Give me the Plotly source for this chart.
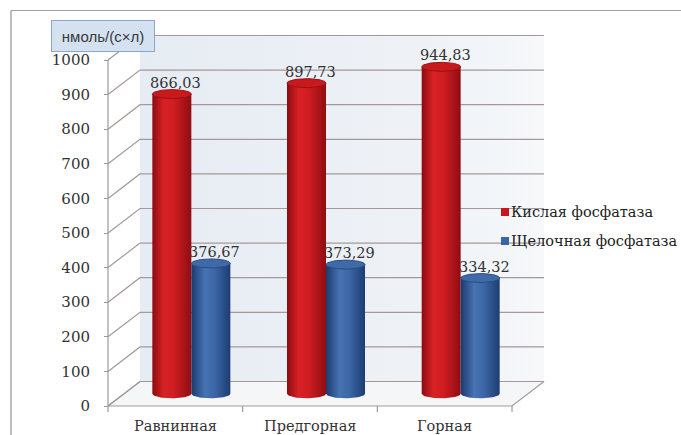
import numpy as np
import plotly.graph_objects as go

# ---- data -------------------------------------------------------------
categories = ["Равнинная", "Предгорная", "Горная"]
series_names = ["Кислая фосфатаза", "Щелочная фосфатаза"]
acid_values = [866.03, 897.73, 944.83]
alkaline_values = [376.67, 373.29, 334.32]
y_ticks = list(range(0, 1001, 100))

# ---- figure geometry (category units on x, value units on y) ----------
W, H = 681, 435
PX_PER_CAT = 134.67          # width of one category slot
PX_PER_UNIT = 0.346          # pixels per value unit
AXIS_PX = 108                # left edge of the floor
ZERO_PX = 406                # baseline pixel row
x_lo = -0.5 - AXIS_PX / PX_PER_CAT
x_hi = x_lo + W / PX_PER_CAT
y_lo = -(H - ZERO_PX) / PX_PER_UNIT
y_hi = ZERO_PX / PX_PER_UNIT

DX = 32 / PX_PER_CAT          # depth offset on x
DY = 24.5 / PX_PER_UNIT       # depth offset on y
R = 19.5 / PX_PER_CAT         # cylinder radius (x units)
RY = 4.5 / PX_PER_UNIT        # ellipse half-height (y units)

n = len(categories)
x_left, x_right = -0.5, n - 0.5

GRID = "#a69898"
SERIF = "DejaVu Serif"
TEXT = "#333333"

fig = go.Figure()

# back wall
fig.add_trace(go.Scatter(
    x=[x_left + DX, x_right + DX, x_right + DX, x_left + DX, x_left + DX],
    y=[DY, DY, 1000 + DY, 1000 + DY, DY],
    mode="lines", line=dict(width=0), fill="toself",
    fillgradient=dict(type="horizontal",
                      colorscale=[[0, "#e6ecf3"], [0.7, "#eef2f7"], [1, "#f6f8fa"]]),
    hoverinfo="skip", showlegend=False))

# floor
fig.add_trace(go.Scatter(
    x=[x_left, x_right, x_right + DX, x_left + DX, x_left],
    y=[0, 0, DY, DY, 0],
    mode="lines", line=dict(color=GRID, width=1.2), fill="toself",
    fillcolor="#f5f6f8", hoverinfo="skip", showlegend=False))

# gridlines on the back wall plus the diagonals from the value axis
gx, gy = [], []
for t in y_ticks:
    gx += [x_left, x_left + DX, x_right + DX, None]
    gy += [t, t + DY, t + DY, None]
fig.add_trace(go.Scatter(x=gx, y=gy, mode="lines",
                         line=dict(color=GRID, width=1.2),
                         hoverinfo="skip", showlegend=False))

# value axis line and category tick marks
tick_down = 6 / PX_PER_UNIT
cx_, cy_ = [x_left, x_left, None], [0, 1000, None]
for k in range(n + 1):
    cx_ += [x_left + k, x_left + k, None]
    cy_ += [0, -tick_down, None]
fig.add_trace(go.Scatter(x=cx_, y=cy_, mode="lines",
                         line=dict(color="#9a9a9a", width=1.2),
                         hoverinfo="skip", showlegend=False))

# ---- cylinders --------------------------------------------------------
styles = [
    dict(body=[[0, "#8c0b0f"], [0.3, "#d82226"], [0.55, "#cf1d21"], [1, "#8f0d11"]],
         top="#c9191d", rim="#9a1014", key="#c8161b"),
    dict(body=[[0, "#1b3a6e"], [0.35, "#4673b3"], [0.6, "#3c66a6"], [1, "#1d3c72"]],
         top="#3f6aa9", rim="#2a4c82", key="#3a65a8"),
]
theta = np.linspace(0, np.pi, 40)
theta_full = np.linspace(0, 2 * np.pi, 80)

for s, values in enumerate([acid_values, alkaline_values]):
    st = styles[s]
    for i, v in enumerate(values):
        cx = i + DX / 2 + (2 * s - 1) * R
        base = DY / 2
        top = v + DY / 2
        # body: straight top edge, sides, lower half of the base ellipse
        bx = [cx - R, cx + R, cx + R] + list(cx + R * np.cos(theta)) + [cx - R]
        by = [top, top, base] + list(base - RY * np.sin(theta)) + [top]
        fig.add_trace(go.Scatter(
            x=bx, y=by, mode="lines", line=dict(width=0), fill="toself",
            fillgradient=dict(type="horizontal", colorscale=st["body"]),
            hoverinfo="skip", showlegend=False))
        # top cap
        fig.add_trace(go.Scatter(
            x=cx + R * np.cos(theta_full), y=top + RY * np.sin(theta_full),
            mode="lines", line=dict(color=st["rim"], width=1),
            fill="toself", fillcolor=st["top"],
            hoverinfo="skip", showlegend=False))
        # value label
        fig.add_annotation(
            x=cx, y=top + RY, text=f"{v:.2f}".replace(".", ","),
            xanchor="center", yanchor="bottom", xshift=4, yshift=-3,
            showarrow=False, font=dict(family=SERIF, size=14.5, color=TEXT))

# ---- category labels ----------------------------------------------------
for i, c in enumerate(categories):
    fig.add_annotation(x=i, y=0, text=c, xanchor="center", yanchor="top",
                       yshift=-10, showarrow=False,
                       font=dict(family=SERIF, size=14.5, color=TEXT))

# ---- legend (key squares + names) ------------------------------------
leg_x = x_lo + 505 / PX_PER_CAT
leg_y = [y_hi - 212 / PX_PER_UNIT, y_hi - 241 / PX_PER_UNIT]
for s, name in enumerate(series_names):
    fig.add_trace(go.Scatter(
        x=[leg_x], y=[leg_y[s]], mode="markers",
        marker=dict(symbol="square", size=8, color=styles[s]["key"]),
        hoverinfo="skip", showlegend=False))
    fig.add_annotation(x=leg_x, y=leg_y[s], text=name, xanchor="left",
                       yanchor="middle", xshift=4, showarrow=False,
                       font=dict(family=SERIF, size=14.5, color="#222222"))

# ---- unit label box ----------------------------------------------------
fig.add_annotation(xref="paper", yref="paper", x=103 / W, y=1 - 36 / H,
                   text="нмоль/(с×л)", showarrow=False,
                   xanchor="center", yanchor="middle",
                   width=98, height=26, borderpad=2,
                   bgcolor="#d3e1f1", bordercolor="#8ea7c7", borderwidth=1,
                   font=dict(family="Liberation Sans", size=15, color="#3a3a3a"))

# ---- outer frame ------------------------------------------------------
fig.add_shape(type="line", xref="paper", yref="paper",
              x0=11 / W, x1=1, y0=1 - 10.5 / H, y1=1 - 10.5 / H,
              line=dict(color="#a89c9c", width=1.2))
fig.add_shape(type="line", xref="paper", yref="paper",
              x0=11 / W, x1=11 / W, y0=0, y1=1 - 10.5 / H,
              line=dict(color="#a8a8a8", width=1.5))

fig.update_layout(
    width=W, height=H, autosize=False,
    margin=dict(l=0, r=0, t=0, b=0),
    paper_bgcolor="white", plot_bgcolor="white",
    xaxis=dict(range=[x_lo, x_hi], visible=False, fixedrange=True),
    yaxis=dict(range=[y_lo, y_hi], anchor="free", position=AXIS_PX / W,
               tickvals=y_ticks, ticks="outside", ticklen=4, tickcolor="#9a9a9a",
               showgrid=False, zeroline=False, showline=False, automargin=False,
               ticklabelstandoff=11,
               tickfont=dict(family=SERIF, size=15, color=TEXT),
               fixedrange=True),
    showlegend=False,
)

fig.write_html("out.html")
